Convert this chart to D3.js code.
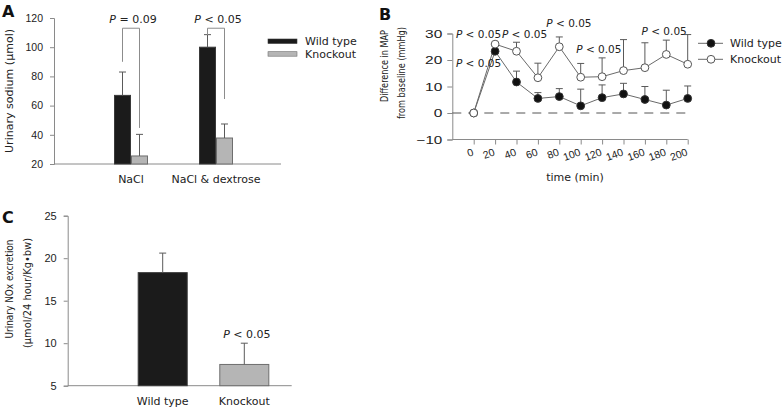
<!DOCTYPE html>
<html><head><meta charset="utf-8">
<script src="https://cdn.jsdelivr.net/npm/d3@7"></script>
<style>
body{margin:0;background:#fff;}
svg{display:block;font-family:'DejaVu Sans',Verdana,sans-serif;}
</style></head><body>
<svg id="chart" width="782" height="409"></svg>
<script>
// ---------- Panel A data ----------
const aCategories = ["NaCl", "NaCl & dextrose"];
const aSeries = ["Wild type", "Knockout"];
const aWild = [67, 100];
const aWildSD = [16, 8.6];
const aKnock = [25.5, 37.8];
const aKnockSD = [14.8, 9.6];
const aTicks = [20, 40, 60, 80, 100, 120];
// bracket: top value, left-arm end, right-arm end, label
const aBrackets = [
  {cat: "NaCl", top: 113, left: 90, right: 44.7, label: ["P", " = 0.09"]},
  {cat: "NaCl & dextrose", top: 113, left: 108.4, right: 64.5, label: ["P", " < 0.05"]}
];

// ---------- Panel B data ----------
const bTimes = [0, 20, 40, 60, 80, 100, 120, 140, 160, 180, 200];
const bWild = [0, 23.3, 11.7, 5.5, 6.2, 2.7, 5.8, 7.2, 5.1, 3.0, 5.5];
const bWildSD = [0, 2.5, 4.1, 2.2, 3.0, 6.3, 4.8, 4.0, 4.9, 5.6, 4.7];
const bKnock = [0, 26, 23.3, 13.3, 25, 13.5, 13.7, 16, 17.1, 22.1, 18.4];
const bKnockSD = [0, 0, 3.4, 5.5, 3.7, 5.2, 7.1, 11.7, 9.4, 5.4, 11.2];
const bYTicks = [-10, 0, 10, 20, 30];
const bXTicks = [0, 20, 40, 60, 80, 100, 120, 140, 160, 180, 200];
const bNotes = [
  {t: 4.5, v: 28.2}, {t: 4.5, v: 17.5}, {t: 47.5, v: 28.2},
  {t: 89, v: 32.3}, {t: 117, v: 22.6}, {t: 178, v: 29.4}
];

// ---------- Panel C data ----------
const cCategories = ["Wild type", "Knockout"];
const cValues = [18.3, 7.5];
const cSD = [2.3, 2.5];
const cTicks = [5, 10, 15, 20, 25];
const cNote = {cat: "Knockout", v: 10.65};

// ---------- styles ----------
const WT = "#1b1b1b", WTline = "#3a3a3a";
const KO = "#b5b5b5", KOline = "#6e6e6e";
const AX = "#8a8a8a";
const ERR = "#5a5a5a";
const TXT = "#222";

const svg = d3.select("#chart");

function styleAxis(g, fs) {
  g.select(".domain").attr("stroke", AX);
  g.selectAll(".tick line").attr("stroke", AX);
  g.selectAll(".tick text").attr("fill", TXT).attr("font-size", fs).attr("font-family", null);
}
function pText(g, x, y, parts, anchor, fs) {
  const t = g.append("text").attr("x", x).attr("y", y).attr("text-anchor", anchor || "middle")
    .attr("font-size", fs || 11).attr("fill", TXT);
  t.append("tspan").attr("font-style", "italic").text(parts[0]);
  t.append("tspan").text(parts[1]);
  return t;
}
function errBar(g, x, y0, y1, cap) {
  g.append("line").attr("x1", x).attr("x2", x).attr("y1", y0).attr("y2", y1).attr("stroke", ERR);
  g.append("line").attr("x1", x - cap).attr("x2", x + cap).attr("y1", y1).attr("y2", y1).attr("stroke", ERR);
}
function rotTitle(g, x, y, text, len, fs) {
  g.append("text").attr("transform", `translate(${x},${y}) rotate(-90)`).attr("text-anchor", "middle")
    .attr("font-size", fs || 11).attr("fill", TXT)
    .attr("textLength", len).attr("lengthAdjust", "spacingAndGlyphs").text(text);
}

// =========== Panel A ===========
{
  const g = svg.append("g");
  const y = d3.scaleLinear().domain([20, 120]).range([164, 18]);
  const x0 = d3.scaleBand().domain(aCategories).range([88.5, 258.5]);
  const x1 = d3.scaleBand().domain(aSeries).range([x0.bandwidth()/2 - 17, x0.bandwidth()/2 + 17]);

  g.append("g").attr("transform", "translate(54,0)")
    .call(d3.axisLeft(y).tickValues(aTicks).tickSize(4).tickPadding(7))
    .call(a => styleAxis(a, 10.5));
  g.append("line").attr("x1", 54).attr("x2", 281).attr("y1", y(20)).attr("y2", y(20)).attr("stroke", AX);

  aCategories.forEach((c, i) => {
    [[aWild, aWildSD, WT, WTline, "Wild type"], [aKnock, aKnockSD, KO, KOline, "Knockout"]].forEach(([vals, sds, fill, stroke, s]) => {
      const bx = x0(c) + x1(s);
      g.append("rect").attr("x", bx + 0.5).attr("y", y(vals[i]))
        .attr("width", x1.bandwidth() - 1).attr("height", y(20) - y(vals[i]))
        .attr("fill", fill).attr("stroke", stroke);
      errBar(g, bx + x1.bandwidth()/2, y(vals[i]), y(vals[i] + sds[i]), 3.5);
    });
    g.append("text").attr("x", x0(c) + x0.bandwidth()/2).attr("y", 183)
      .attr("text-anchor", "middle").attr("font-size", 11).attr("fill", TXT).text(c);
  });

  aBrackets.forEach(b => {
    const xl = x0(b.cat) + x1("Wild type") + x1.bandwidth()/2;
    const xr = x0(b.cat) + x1("Knockout") + x1.bandwidth()/2;
    g.append("path").attr("fill", "none").attr("stroke", "#8c8c8c")
      .attr("d", `M${xl},${y(b.left)}V${y(b.top)}H${xr}V${y(b.right)}`);
    pText(g, (xl + xr)/2 + 2, 23, b.label, "middle", 11);
  });

  rotTitle(g, 13, (y(20) + y(120))/2, "Urinary sodium (μmol)", 124);
  g.append("text").attr("x", 2).attr("y", 17).attr("font-size", 16).attr("font-weight", "bold").attr("fill", "#111").text("A");

  const lg = g.append("g");
  [[WT, WTline, 39], [KO, KOline, 51.7]].forEach(([f, s, yy], i) => {
    lg.append("rect").attr("x", 268).attr("y", yy).attr("width", 29).attr("height", 4.5).attr("fill", f).attr("stroke", s).attr("stroke-width", 0.6);
    lg.append("text").attr("x", 305).attr("y", yy + 2.3).attr("dy", "0.35em").attr("font-size", 11).attr("fill", TXT).text(aSeries[i]);
  });
}

// =========== Panel B ===========
{
  const g = svg.append("g");
  const x = d3.scaleLinear().domain([-20, 200]).range([452.3, 687.7]);
  const y = d3.scaleLinear().domain([-10, 30]).range([139.5, 33.5]);

  g.append("g").attr("transform", "translate(452.3,0)")
    .call(d3.axisLeft(y).tickValues(bYTicks).tickSize(5).tickPadding(5))
    .call(a => styleAxis(a, 11.5))
    .call(a => a.selectAll(".tick text")
      .attr("textLength", d => String(d).length * 8.6)
      .attr("lengthAdjust", "spacingAndGlyphs"));
  const xa = g.append("g").attr("transform", `translate(0,${y(-10)})`)
    .call(d3.axisBottom(x).tickValues(bXTicks).tickSize(5).tickFormat(d3.format("d")))
    .call(a => styleAxis(a, 10.5));
  xa.selectAll(".tick text").attr("text-anchor", "end").attr("dy", null).attr("y", null)
    .attr("transform", "translate(0,15.5) rotate(-20)");
  xa.select(".domain").attr("d", `M${x(-20)},0H${x(200)}`);

  g.append("line").attr("x1", x(-20)).attr("x2", x(200)).attr("y1", y(0)).attr("y2", y(0))
    .attr("stroke", "#555").attr("stroke-dasharray", "9,7");

  const line = d3.line().x((d, i) => x(bTimes[i])).y(d => y(d));
  [[bWild, bWildSD], [bKnock, bKnockSD]].forEach(([vals, sds]) => {
    vals.forEach((v, i) => { if (sds[i] > 0) errBar(g, x(bTimes[i]), y(v), y(v + sds[i]), 3.5); });
  });
  g.append("path").datum(bWild).attr("d", line).attr("fill", "none").attr("stroke", "#6a6a6a");
  g.append("path").datum(bKnock).attr("d", line).attr("fill", "none").attr("stroke", "#6a6a6a");
  g.selectAll(".wt").data(bWild).join("circle").attr("cx", (d, i) => x(bTimes[i])).attr("cy", d => y(d))
    .attr("r", 3.9).attr("fill", "#111").attr("stroke", "#333");
  g.selectAll(".ko").data(bKnock).join("circle").attr("cx", (d, i) => x(bTimes[i])).attr("cy", d => y(d))
    .attr("r", 3.9).attr("fill", "#fff").attr("stroke", "#555");

  bNotes.forEach(n => pText(g, x(n.t), y(n.v), ["P", " < 0.05"], "middle", 10.5));

  g.append("text").attr("x", 575).attr("y", 181).attr("text-anchor", "middle").attr("font-size", 11).attr("fill", TXT).text("time (min)");
  rotTitle(g, 388, 66, "Difference in MAP", 72, 9.8);
  rotTitle(g, 405, 73, "from baseline (mmHg)", 92, 9.8);
  g.append("text").attr("x", 379).attr("y", 20).attr("font-size", 16).attr("font-weight", "bold").attr("fill", "#111").text("B");

  [["#111", "#333", 43.3, "Wild type"], ["#fff", "#555", 59.3, "Knockout"]].forEach(([f, s, yy, t]) => {
    g.append("line").attr("x1", 698).attr("x2", 723).attr("y1", yy).attr("y2", yy).attr("stroke", "#6a6a6a");
    g.append("circle").attr("cx", 711).attr("cy", yy).attr("r", 3.9).attr("fill", f).attr("stroke", s);
    g.append("text").attr("x", 730).attr("y", yy).attr("dy", "0.35em").attr("font-size", 11).attr("fill", TXT).text(t);
  });
}

// =========== Panel C ===========
{
  const g = svg.append("g");
  const y = d3.scaleLinear().domain([5, 25]).range([385.7, 215.7]);
  const x = d3.scaleBand().domain(cCategories).range([121.9, 285.1]).paddingInner(0.387).paddingOuter(0.1935);

  g.append("g").attr("transform", "translate(67.7,0)")
    .call(d3.axisLeft(y).tickValues(cTicks).tickSize(4).tickPadding(7))
    .call(a => styleAxis(a, 11));
  g.append("line").attr("x1", 67.7).attr("x2", 291.7).attr("y1", y(5)).attr("y2", y(5)).attr("stroke", AX);

  cCategories.forEach((c, i) => {
    const fill = i === 0 ? WT : KO, stroke = i === 0 ? WTline : KOline;
    g.append("rect").attr("x", x(c) + 0.5).attr("y", y(cValues[i])).attr("width", x.bandwidth() - 1)
      .attr("height", y(5) - y(cValues[i])).attr("fill", fill).attr("stroke", stroke);
    errBar(g, x(c) + x.bandwidth()/2, y(cValues[i]), y(cValues[i] + cSD[i]), 3.5);
    g.append("text").attr("x", x(c) + x.bandwidth()/2).attr("y", 405).attr("text-anchor", "middle")
      .attr("font-size", 11).attr("fill", TXT).text(c);
  });
  pText(g, x(cNote.cat) + x.bandwidth()/2 + 2.5, y(cNote.v), ["P", " < 0.05"], "middle", 11);

  rotTitle(g, 13, 289, "Urinary NOx excretion", 99);
  rotTitle(g, 30.5, 293, "(μmol/24 hour/Kg•bw)", 110);
  g.append("text").attr("x", 2).attr("y", 223).attr("font-size", 16).attr("font-weight", "bold").attr("fill", "#111").text("C");
}
</script>
</body></html>
